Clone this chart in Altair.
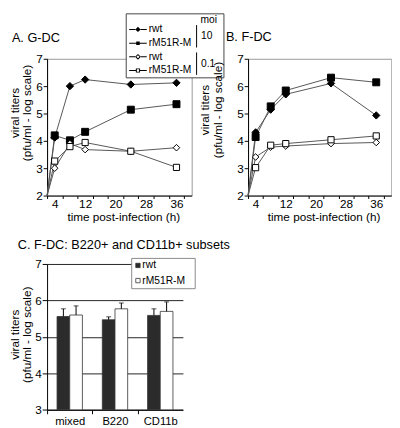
import altair as alt
import pandas as pd

FONT = "Liberation Sans"

# ---------------- data ----------------
times = [2, 4, 8, 12, 24, 36]          # first entry: start of the curves at the axis corner
series_keys = ["rwt|10", "rM51R-M|10", "rwt|0.1", "rM51R-M|0.1"]
series_labels = ["rwt", "rM51R-M", "rwt", "rM51R-M"]
moi_levels = ["10", "0.1"]
moi_header = "moi"

gdc_rwt_10 = [2, 4.12, 6.00, 6.24, 6.06, 6.12]
gdc_m51_10 = [2, 4.20, 4.02, 4.33, 5.14, 5.34]
gdc_rwt_01 = [2, 3.00, 3.90, 3.68, 3.62, 3.75]
gdc_m51_01 = [2, 3.26, 3.79, 3.94, 3.62, 3.03]

fdc_rwt_10 = [2, 4.31, 5.14, 5.70, 6.10, 4.93]
fdc_m51_10 = [2, 4.14, 5.26, 5.84, 6.31, 6.14]
fdc_rwt_01 = [2, 3.41, 3.77, 3.81, 3.90, 3.94]
fdc_m51_01 = [2, 3.02, 3.84, 3.90, 4.04, 4.18]

subsets = ["mixed", "B220", "CD11b"]
viruses = ["rwt", "rM51R-M"]
virus_colors = ["#2b2b2b", "white"]
sub_rwt = [5.56, 5.47, 5.59]
sub_rwt_hi = [5.77, 5.55, 5.77]
sub_m51 = [5.60, 5.77, 5.70]
sub_m51_hi = [5.85, 5.93, 5.96]

title_a = "A. G-DC"
title_b = "B. F-DC"
title_c = "C. F-DC: B220+ and CD11b+ subsets"
y_title = ["viral titers", "(pfu/ml - log scale)"]
x_title = "time post-infection (h)"

# ---------------- helpers ----------------
def tc_frame(v1, v2, v3, v4):
    rows = []
    for key, vals in zip(series_keys, [v1, v2, v3, v4]):
        for t, v in zip(times, vals):
            rows.append({"time": t, "titer": v, "series": key})
    return pd.DataFrame(rows)


one = pd.DataFrame({"b": [1]})


def label_layer(text, px, py, size=13, align="left"):
    return alt.Chart(pd.DataFrame({"t": [text]})).mark_text(
        font=FONT, fontSize=size, align=align, baseline="middle", color="black"
    ).encode(text="t:N", x=alt.value(px), y=alt.value(py))


def box_layer(x1, x2, y1, y2, stroke):
    return alt.Chart(one).mark_rect(fill="white", stroke=stroke, strokeWidth=1).encode(
        x=alt.value(x1), x2=alt.value(x2), y=alt.value(y1), y2=alt.value(y2))


shape_rng = ["diamond", "square", "diamond", "square"]
fill_rng = ["black", "black", "white", "white"]
size_rng = [56, 40, 44, 40]

# legend glyphs (fill only): line segment + marker, open markers drawn as rings
_h = 0.083
def _seg(a, b):
    return f"M{a},{-_h}H{b}V{_h}H{a}Z"
legend_paths = [
    _seg(-1.5, -0.45) + _seg(0.45, 1.5) + "M-0.45,0L0,-0.45L0.45,0L0,0.45Z",
    _seg(-1.5, -0.3) + _seg(0.3, 1.5) + "M-0.3,-0.3H0.3V0.3H-0.3Z",
    _seg(-1.5, -0.5) + _seg(0.5, 1.5) + "M-0.5,0L0,-0.5L0.5,0L0,0.5Z" + "M-0.264,0L0,0.264L0.264,0L0,-0.264Z",
    _seg(-1.5, -0.36) + _seg(0.36, 1.5) + "M-0.36,-0.36H0.36V0.36H-0.36Z" + "M-0.193,-0.193V0.193H0.193V-0.193Z",
]


def y_axis(values, ytitle_y, tick, title_x):
    return alt.Axis(values=values, title=y_title, tickSize=tick, labelPadding=1, grid=False,
                    titleX=title_x, titleY=ytitle_y, titleAngle=270, titleBaseline="bottom",
                    titleAlign="center", titleLineHeight=12.5, labelOverlap=False)


def timecourse(df, width, height, title, tdx, tdy, ytitle_y, ytitle_x, with_legend):
    x = alt.X("time:Q", scale=alt.Scale(domain=[2, 40], nice=False, zero=False),
              axis=alt.Axis(values=list(range(2, 40, 2)), title=x_title,
                            tickSize=3, labelPadding=0, titlePadding=3,
                            titleX=width / 2 + 4,
                            tickOpacity={"condition": {"test": "datum.value % 4 == 2", "value": 1}, "value": 0},
                            labelExpr="datum.value % 8 == 4 ? datum.label : ''",
                            labelOverlap=False, labelFlush=False, grid=False))
    y = alt.Y("titer:Q", scale=alt.Scale(domain=[2, 7], nice=False, zero=False),
              axis=y_axis([2, 3, 4, 5, 6, 7], ytitle_y, 4, ytitle_x))
    lines = alt.Chart(df).mark_line(color="#555", strokeWidth=1).encode(
        x=x, y=y, detail="series:N", order="time:Q")
    pts = alt.Chart(df).transform_filter("datum.time > 2").mark_point(
        filled=True, opacity=1, stroke="black", strokeWidth=1
    ).encode(
        x=x, y=y,
        shape=alt.Shape("series:N", scale=alt.Scale(domain=series_keys, range=shape_rng), legend=None),
        fill=alt.Fill("series:N", scale=alt.Scale(domain=series_keys, range=fill_rng), legend=None),
        size=alt.Size("series:N", scale=alt.Scale(domain=series_keys, range=size_rng), legend=None),
    )
    layers = []
    if with_legend:
        layers.append(box_layer(81, 181, -46, 19.5, "#444"))
    layers += [lines, pts, label_layer(title, tdx, tdy)]
    plot = alt.layer(*layers)
    if not with_legend:
        return plot.properties(width=width, height=height)

    # legend built from the series list; rows share one row-index scale
    ly_scale = alt.Scale(domain=[0, 3], range=[-30, 12], nice=False, zero=False)
    ldf = pd.DataFrame({"row": list(range(len(series_keys))), "series": series_keys,
                        "label": series_labels})
    mdf = pd.DataFrame({"row": [0.5, 2.5], "label": moi_levels,
                        "lo": [-0.32, 1.68], "hi": [1.32, 3.32]})
    hdf = pd.DataFrame({"row": [-0.68], "label": [moi_header]})
    ly = alt.Y("row:Q", scale=ly_scale, axis=None)
    sym = alt.Chart(ldf).mark_point(filled=True, opacity=1, color="black", size=144, strokeWidth=0).encode(
        x=alt.value(93), y=ly,
        shape=alt.Shape("series:N", scale=alt.Scale(domain=series_keys, range=legend_paths), legend=None))
    txt = dict(font=FONT, fontSize=10.5, align="left", baseline="middle", color="black")
    lab = alt.Chart(ldf).mark_text(**txt).encode(x=alt.value(104), y=ly, text="label:N")
    bars = alt.Chart(mdf).mark_rule(color="black", strokeWidth=1).encode(
        x=alt.value(153), y=alt.Y("lo:Q", scale=ly_scale, axis=None), y2="hi:Q")
    mlab = alt.Chart(mdf).mark_text(**txt).encode(x=alt.value(157.5), y=ly, text="label:N")
    hlab = alt.Chart(hdf).mark_text(**txt).encode(x=alt.value(157), y=ly, text="label:N")
    legend = alt.layer(sym, lab, bars, mlab, hlab)
    return alt.layer(plot, legend).resolve_scale(
        y="independent", shape="independent", fill="independent", size="independent"
    ).properties(width=width, height=height)


panel_a = timecourse(tc_frame(gdc_rwt_10, gdc_m51_10, gdc_rwt_01, gdc_m51_01),
                     148, 140, title_a, -36, -21.5, 55, -26, True)
panel_b = timecourse(tc_frame(fdc_rwt_10, fdc_m51_10, fdc_rwt_01, fdc_m51_01),
                     146.6, 140, title_b, -22.7, -22.5, 52, -37, False)

# ---------------- panel C ----------------
crows = []
for i, s in enumerate(subsets):
    crows.append({"subset": s, "virus": viruses[0], "mean": sub_rwt[i], "upper": sub_rwt_hi[i]})
    crows.append({"subset": s, "virus": viruses[1], "mean": sub_m51[i], "upper": sub_m51_hi[i]})
cdf = pd.DataFrame(crows)

wc, hc = 139, 149.3
step = wc / 3
cx = alt.X("subset:N", sort=subsets, title=None,
           scale=alt.Scale(paddingInner=0.44, paddingOuter=0.22),
           axis=alt.Axis(labelAngle=0, tickSize=4, labelPadding=2, bandPosition=0.5,
                         tickOffset=-step / 2, labelOffset=step / 2, labelFontSize=11.5))
cxo = alt.XOffset("virus:N", sort=viruses)
cy_axis = y_axis([3, 4, 5, 6, 7], 72, 5, -26)
cy_axis.grid = True
cy_axis.gridColor = "#222"
cy_axis.gridOpacity = 1
cy = alt.Y("mean:Q", scale=alt.Scale(domain=[3, 7], nice=False, zero=False), axis=cy_axis)
bars = alt.Chart(cdf).mark_bar(stroke="#333", strokeWidth=0.8).encode(
    x=cx, xOffset=cxo, y=cy, y2=alt.datum(3),
    fill=alt.Fill("virus:N", scale=alt.Scale(domain=viruses, range=virus_colors), legend=None))
err = alt.Chart(cdf).mark_rule(color="black", strokeWidth=1).encode(
    x=cx, xOffset=cxo, y=alt.Y("mean:Q", axis=cy_axis), y2="upper:Q")
cap = alt.Chart(cdf).mark_tick(color="black", thickness=1, size=5).encode(
    x=cx, xOffset=cxo, y=alt.Y("upper:Q", axis=cy_axis))
c_plot = alt.layer(bars, err, cap, label_layer(title_c, -30, -19))

cldf = pd.DataFrame({"virus": viruses})
cly = alt.Y("virus:N", sort=viruses, axis=None,
            scale=alt.Scale(type="point", domain=viruses, range=[1.5, 17], padding=0))
c_box = box_layer(86.6, 151.6, -5.7, 25.3, "#888")
c_sym = alt.Chart(cldf).mark_point(shape="square", filled=True, opacity=1, size=20,
                                   stroke="#333", strokeWidth=0.8).encode(
    x=alt.value(93), y=cly,
    fill=alt.Fill("virus:N", scale=alt.Scale(domain=viruses, range=virus_colors), legend=None))
c_lab = alt.Chart(cldf).mark_text(font=FONT, fontSize=10.5, align="left", baseline="middle",
                                  color="black").encode(x=alt.value(97.5), y=cly, text="virus:N")
c_legend = alt.layer(c_box, c_sym, c_lab)
panel_c = alt.layer(c_plot, c_legend).resolve_scale(y="independent", fill="independent").properties(
    width=wc, height=hc, view=alt.ViewBackground(strokeOpacity=0))

chart = alt.concat(panel_a, panel_b, panel_c, columns=2, bounds="flush",
                   spacing=alt.RowColnumber(row=70, column=57.7)).properties(
    padding=0
).configure(font=FONT).configure_view(stroke="#999", strokeWidth=1).configure_axis(
    labelFont=FONT, titleFont=FONT, labelColor="black", titleColor="black",
    domainColor="black", tickColor="black", titleFontWeight="normal",
    labelFontSize=12, titleFontSize=12
)

chart.save("out.html", embed_options={"renderer": "svg", "actions": False})
